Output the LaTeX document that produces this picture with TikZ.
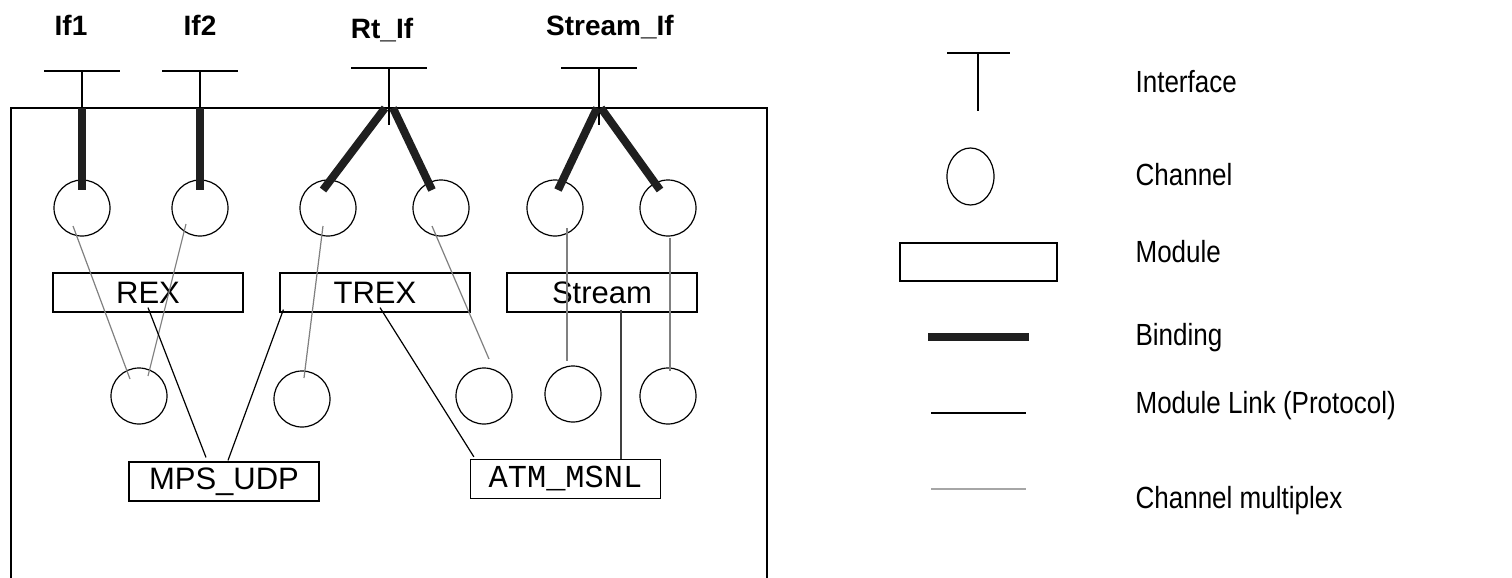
\documentclass[tikz,border=0pt]{standalone}
\usepackage{fontspec}
\setmainfont{Liberation Sans}
\setmonofont{Liberation Mono}
\newfontfamily\legendfont[FakeStretch=0.85]{Liberation Sans}
\usetikzlibrary{shapes.geometric, calc, positioning}

\begin{document}
\begin{tikzpicture}[
    x=0.5pt,
    y=-0.5pt,
    line width=0.6pt,
    chan/.style={circle, draw, minimum size=28pt, inner sep=0pt},
    module/.style={rectangle, draw, minimum width=95pt, minimum height=19.5pt, inner sep=0pt, font=\fontsize{15.5}{18}\selectfont},
    bind/.style={draw=black!88, line width=4pt},
    link/.style={draw=black, line width=0.6pt},
    mux/.style={draw=black!50, line width=0.6pt},
    iflabel/.style={anchor=base, inner sep=0pt, font=\fontsize{14}{16}\selectfont\bfseries},
    legtext/.style={anchor=base west, inner sep=0pt, font=\legendfont\fontsize{15.3}{18}\selectfont}
]
\useasboundingbox (0,0) rectangle (1512,578);

% Component frame, open at the bottom
\draw (11,578) -- (11,108) -- (767,108) -- (767,578);
\coordinate (top) at (0,108);

% Interfaces with their labels
\foreach \name/\x/\y/\stemend/\lx/\ly/\txt in {
    if1/82/71/108/71/35/If1,
    if2/200/71/108/200/35/If2,
    rt/389/68/125/382/39/Rt\_If,
    st/599/68/125/610/35/Stream\_If} {
    \coordinate (\name) at (\x,\y);
    \draw ($(\name)+(-38,0)$) -- ($(\name)+(38,0)$);
    \draw (\name) -- (\x,\stemend);
    \node[iflabel] (\name lbl) at (\lx,\ly) {\txt};
}

% Channels, upper row
\node[chan] (c1) at (82,208) {};
\node[chan] (c2) at (200,208) {};
\node[chan] (c3) at (328,208) {};
\node[chan] (c4) at (441,208) {};
\node[chan] (c5) at (555,208) {};
\node[chan] (c6) at (668,208) {};

% Channels, lower row
\node[chan] (d1) at (139,396) {};
\node[chan] (d2) at (302,399) {};
\node[chan] (d3) at (484,396) {};
\node[chan] (d4) at (573,394) {};
\node[chan] (d5) at (668,396) {};

% Modules
\node[module] (rex) at (148,292.5) {REX};
\node[module] (trex) at (375,292.5) {TREX};
\node[module] (stream) at (602,292.5) {Stream};
\node[module] (mps) at (224,481.5) {MPS\_UDP};
\node[module, font=\ttfamily\fontsize{16}{18}\selectfont] (atm) at (565.5,479) {ATM\_MSNL};

% Bindings
\draw[bind] (if1 |- top) -- ($(c1)+(0,-18)$);
\draw[bind] (if2 |- top) -- ($(c2)+(0,-18)$);
\draw[bind] ($(rt |- top)+(-4,0)$) -- ($(c3)+(-5,-18)$);
\draw[bind] ($(rt |- top)+(4,0)$) -- ($(c4)+(-9,-18)$);
\draw[bind] ($(st |- top)+(-2,0)$) -- ($(c5)+(3,-18)$);
\draw[bind] ($(st |- top)+(2,0)$) -- ($(c6)+(-8,-18)$);

% Channel multiplex
\draw[mux] ($(c1)+(-9,18)$) -- ($(d1)+(-9,-17)$);
\draw[mux] ($(c2)+(-14,16)$) -- ($(d1)+(9,-20)$);
\draw[mux] ($(c3)+(-5,18)$) -- ($(d2)+(2,-21)$);
\draw[mux] ($(c4)+(-9,18)$) -- ($(d3)+(5,-37)$);
\draw[mux] ($(c5)+(12,20)$) -- ($(d4)+(-6,-33)$);
\draw[mux] ($(c6)+(2,30)$) -- ($(d5)+(2,-25)$);

% Module links
\draw[link] ($(rex.south)+(0,-5)$) -- ($(mps.north)+(-18,-4)$);
\draw[link] ($(trex.south west)+(4,-3)$) -- ($(mps.north)+(4,-1)$);
\draw[link] ($(trex.south)+(5,-5)$) -- ($(atm.north west)+(4,-2)$);
\draw[link, draw=black!75] ($(stream.south)+(19,-3)$) -- ($(atm.north)+(55.5,0)$);

% Legend
\coordinate (lgif) at (978,53);
\draw ($(lgif)+(-31,0)$) -- ($(lgif)+(32,0)$);
\draw (lgif) -- ++(0,58);
\node[legtext] (tif) at (1135,92) {Interface};

\node[draw, ellipse, minimum width=23.5pt, minimum height=28.5pt, inner sep=0pt] (lgchan) at (970.5,176.5) {};
\node[legtext] (tchan) at (1135,185) {Channel};

\node[module, minimum width=78.5pt, minimum height=19pt] (lgmod) at (978.5,262) {};
\node[legtext] (tmod) at (1135,262) {Module};

\draw[bind] (928,337) -- (1029,337);
\node[legtext] (tbind) at (1135,345) {Binding};

\draw[link] (931,413) -- (1026,413);
\node[legtext] (tlink) at (1135,413) {Module Link (Protocol)};

\draw[mux, draw=black!35] (931,489) -- (1026,489);
\node[legtext] (tmux) at (1135,508) {Channel multiplex};

\end{tikzpicture}
\end{document}
